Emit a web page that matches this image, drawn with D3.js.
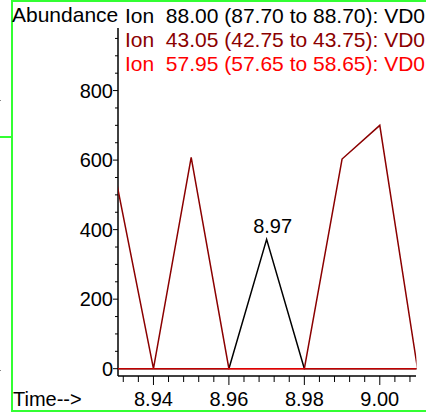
<!DOCTYPE html>
<html><head><meta charset="utf-8">
<script src="https://cdn.jsdelivr.net/npm/d3@7"></script>
<style>
html,body{margin:0;padding:0;background:#fff;overflow:hidden}
text{font-family:"Liberation Sans",Arial,sans-serif}
</style></head>
<body>
<svg id="c" width="426" height="413"></svg>
<script>
const times = [8.93, 8.94, 8.95, 8.96, 8.97, 8.98, 8.99, 9.00, 9.01];
const ion88 = [0, 0, 0, 0, 372, 0, 0, 0, 0];
const ion43 = [548, 0, 608, 0, 0, 0, 603, 700, 0];
const ion58 = [0, 0, 0, 0, 0, 0, 0, 0, 0];
const seriesNames = ["Ion  88.00 (87.70 to 88.70): VD0", "Ion  43.05 (42.75 to 43.75): VD0", "Ion  57.95 (57.65 to 58.65): VD0"];
const seriesColors = ["#000000", "#8b0000", "#ff0000"];
const yTicks = [0, 200, 400, 600, 800];
const xTicks = [8.94, 8.96, 8.98, 9.00];
const peakLabel = {t: 8.97, v: 372, text: "8.97"};

const svg = d3.select("#c");
const x = d3.scaleLinear().domain([8.9306, 9.0096]).range([118, 416]);
const y = d3.scaleLinear().domain([0, 980]).range([368.7, 28]);

// frame
const g0 = svg.append("g");
g0.append("rect").attr("x",11).attr("y",0).attr("width",2).attr("height",412).attr("fill","#33ff33");
g0.append("rect").attr("x",11).attr("y",0).attr("width",415).attr("height",2).attr("fill","#33ff33");
g0.append("rect").attr("x",11).attr("y",410).attr("width",415).attr("height",2).attr("fill","#33ff33");
g0.append("rect").attr("x",0).attr("y",136).attr("width",11).attr("height",2).attr("fill","#33ff33");
g0.append("rect").attr("x",0).attr("y",100).attr("width",1).attr("height",1).attr("fill","#888");
g0.append("rect").attr("x",0).attr("y",370).attr("width",1).attr("height",1).attr("fill","#888");

// axes
const yAxis = svg.append("g").attr("transform","translate(118,0)");
yAxis.append("line").attr("x1",0).attr("x2",0).attr("y1",28).attr("y2",376).attr("stroke","#000").attr("stroke-width",1.5);
const yMinor = d3.range(0, 980, 50);
yAxis.selectAll(".ym").data(yMinor).join("line")
  .attr("x1",d=> d%200===0 ? -5 : -3).attr("x2",0)
  .attr("y1",d=>y(d)).attr("y2",d=>y(d)).attr("stroke","#000").attr("stroke-width",1);
yAxis.selectAll(".yl").data(yTicks).join("text")
  .attr("x",-5).attr("y",d=>y(d)).attr("dy","0.36em").attr("text-anchor","end")
  .attr("font-size",20).text(d=>d);

const xAxis = svg.append("g").attr("transform","translate(0,376)");
xAxis.append("line").attr("x1",118).attr("x2",416).attr("y1",0).attr("y2",0).attr("stroke","#000").attr("stroke-width",1.5);
const xMinor = d3.range(0, 21).map(i => +(8.932 + i*0.004).toFixed(3)).filter(v => x(v) >= 118 && x(v) <= 416);
xAxis.selectAll(".xm").data(xMinor).join("line")
  .attr("x1",d=>x(d)).attr("x2",d=>x(d)).attr("y1",0)
  .attr("y2",d=> xTicks.some(t=>Math.abs(t-d)<1e-6) ? 9 : 6).attr("stroke","#000").attr("stroke-width",1);
xAxis.selectAll(".xl").data(xTicks).join("text")
  .attr("x",d=>x(d)).attr("y",30).attr("text-anchor","middle").attr("font-size",20).text(d=>d.toFixed(2));

svg.append("text").attr("x",13).attr("y",406).attr("font-size",20).text("Time-->");
svg.append("text").attr("x",12).attr("y",22).attr("font-size",21).text("Abundance");

// data
svg.append("clipPath").attr("id","clip").append("rect").attr("x",118).attr("y",0).attr("width",298.5).attr("height",413);
const line = d3.line().x((d,i)=>x(times[i])).y(d=>y(d));
const plot = svg.append("g").attr("clip-path","url(#clip)");
[ion88, ion43, ion58].forEach((s,k)=>{
  plot.append("path").attr("d", line(s)).attr("fill","none")
    .attr("stroke", seriesColors[k]).attr("stroke-width", 1.5)
    .attr("stroke-opacity", k===2 ? 0.75 : 1);
});

svg.append("text").attr("x",x(peakLabel.t)+6).attr("y",y(peakLabel.v)-6)
  .attr("text-anchor","middle").attr("font-size",20).text(peakLabel.text);

// legend
svg.selectAll(".lg").data(seriesNames).join("text")
  .attr("x",125).attr("y",(d,i)=>23+i*24).attr("font-size",21)
  .attr("fill",(d,i)=>seriesColors[i]).style("white-space","pre").text(d=>d);
</script>
</body></html>
